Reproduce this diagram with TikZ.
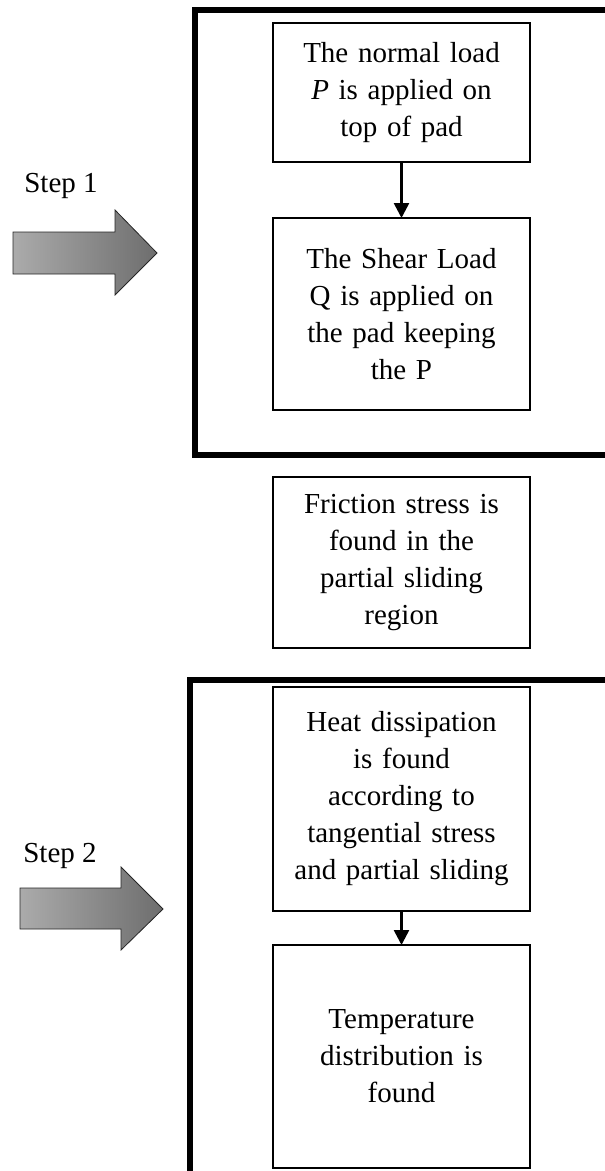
\documentclass[tikz,border=0pt]{standalone}
\usepackage{fontspec}
\setmainfont{Liberation Serif}
\usetikzlibrary{positioning,arrows.meta}

\tikzset{
  procbox/.style={draw, line width=2.2pt, minimum width=257pt, text width=250pt,
    align=center, inner sep=0pt, outer sep=0pt, font=\fontsize{29}{37}\selectfont},
  stepframe/.style={draw, line width=5.8pt},
  steplabel/.style={anchor=base, font=\fontsize{29}{37}\selectfont},
  steparrow/.style={draw=black!85, line width=0.8pt, left color=black!33, right color=black!57},
  flow/.style={line width=2.6pt, -{Triangle[width=15pt,length=15pt]}},
}

\begin{document}
\begin{tikzpicture}[x=1pt, y=-1pt]
  \useasboundingbox (0,0) rectangle (605,1171);
  \clip (0,0) rectangle (605,1171);
  % frames round the two steps
  \draw[stepframe] (195,10) rectangle (720,455);
  \draw[stepframe] (190,680) rectangle (720,1300);
  % boxes
  \node[procbox, minimum height=139pt] (normalload) at (401.5,92.5)
    {The normal load\\ \textit{P} is applied on\\ top of pad};
  \node[procbox, minimum height=192pt, below=56pt of normalload] (shearload)
    {The Shear Load\\ Q is applied on\\ the pad keeping\\ the P};
  \node[procbox, minimum height=171pt, below=67pt of shearload] (friction)
    {Friction stress is\\ found in the\\ partial sliding\\ region};
  \node[procbox, minimum height=224pt, below=39pt of friction] (heat)
    {Heat dissipation\\ is found\\ according to\\ tangential stress\\ and partial sliding};
  \node[procbox, minimum height=223pt, below=34pt of heat] (temp)
    {Temperature\\ distribution is\\ found};
  \draw[flow] (normalload) -- (shearload);
  \draw[flow] (heat) -- (temp);
  % step labels and fat arrows
  \node[steplabel] (stepone) at (61,192) {Step 1};
  \node[steplabel] (steptwo) at (60,862) {Step 2};
  \path[steparrow] (13,232) -- (115,232) -- (115,210) -- (157,253) -- (115,295)
    -- (115,274) -- (13,274) -- cycle;
  \path[steparrow] (20,888) -- (121,888) -- (121,867) -- (163,909) -- (121,950)
    -- (121,929) -- (20,929) -- cycle;
\end{tikzpicture}
\end{document}
